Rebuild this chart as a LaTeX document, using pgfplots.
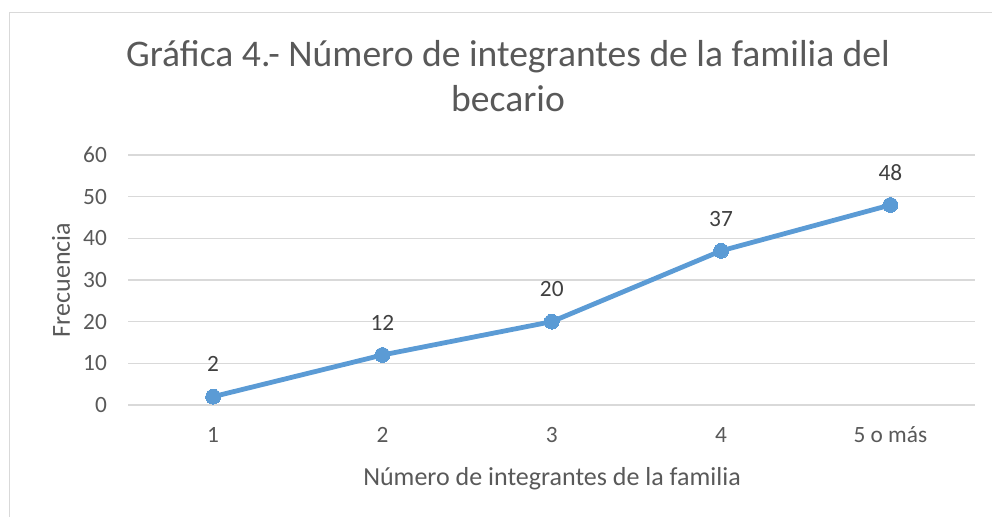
\documentclass[border=0pt]{standalone}
\usepackage{pgfplots}
\pgfplotsset{compat=1.18}
\usepackage{fontspec}
\setmainfont{Carlito}
\definecolor{gridc}{HTML}{D9D9D9}
\definecolor{txt}{HTML}{595959}
\definecolor{lbl}{HTML}{404040}
\definecolor{ser}{HTML}{5B9BD5}
\begin{document}
\begin{tikzpicture}[x=0.75pt,y=0.75pt]
\useasboundingbox (-128.5,-112) rectangle (863.5,405);
\draw[gridc, line width=1.2pt] (-119,-130) -- (-119,392.5) -- (900,392.5);
\begin{axis}[
  scale only axis, width=634.9pt, height=187.5pt,
  xmin=0.5, xmax=5.5, ymin=0, ymax=60,
  xtick={1,2,3,4,5}, xticklabels={1,2,3,4,5 o más},
  ytick={0,10,...,60},
  ymajorgrids, grid style={gridc, line width=0.9pt},
  axis line style={draw=none},
  major tick length=0pt,
  tick label style={font=\fontsize{17.5}{20}\selectfont, text=txt},
  /pgf/number format/assume math mode=true,
  xticklabel style={anchor=base, yshift=-28.5pt},
  yticklabel style={anchor=east, inner sep=0pt, xshift=-16pt},
  clip=false,
]
\addplot[ser, line width=3.6pt, mark=*, mark size=5.6pt, mark options={fill=ser, draw=ser, line width=0pt},
  nodes near coords,
  every node near coord/.append style={font=\fontsize{17.5}{20}\selectfont, text=lbl, anchor=base, inner sep=0pt, yshift=18.5pt}]
  coordinates {(1,2) (2,12) (3,20) (4,37) (5,48)};
\end{axis}
\node[anchor=base, text=txt, font=\fontsize{28.2}{32}\selectfont] at (379.5,338) {Gráfica 4.- Número de integrantes de la familia del};
\node[anchor=base, text=txt, font=\fontsize{28.2}{32}\selectfont] at (379.5,293) {becario};
\node[anchor=base, rotate=90, text=txt, font=\fontsize{19.5}{22}\selectfont] at (-58.5,125) {Frecuencia};
\node[anchor=base, text=txt, font=\fontsize{19.5}{22}\selectfont] at (423.5,-80) {Número de integrantes de la familia};
\end{tikzpicture}
\end{document}
